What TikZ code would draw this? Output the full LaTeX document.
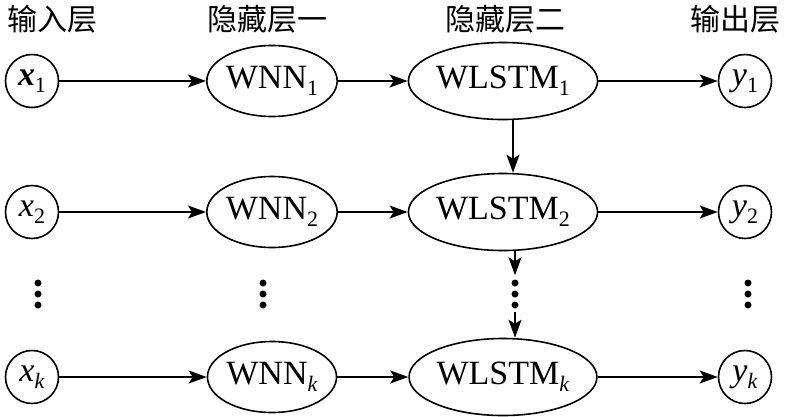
\documentclass[tikz,border=0pt]{standalone}
\usepackage{fontspec}
\setmainfont{Liberation Serif}
\newfontfamily\cjk{Noto Sans CJK SC}
\usetikzlibrary{shapes.geometric,arrows.meta}
\newcommand{\sbs}[1]{\raisebox{-7pt}{\fontsize{22}{22}\selectfont #1}}
\begin{document}
\begin{tikzpicture}[x=1pt,y=-1pt,
  every node/.style={font=\fontsize{34}{36}\selectfont},
  io/.style={draw,line width=1.6pt,circle,minimum size=53pt,inner sep=0pt},
  wnn/.style={draw,line width=1.6pt,ellipse,minimum width=113pt,minimum height=71pt,inner sep=0pt},
  wls/.style={draw,line width=1.6pt,ellipse,minimum width=156pt,minimum height=77pt,inner sep=0pt},
  head/.style={font=\cjk\fontsize{30}{32}\selectfont},
  arr/.style={line width=1.6pt,-{Stealth[length=18pt,width=13pt,inset=4pt]}},
  dot/.style={fill,circle,minimum size=7pt,inner sep=0pt}]
\useasboundingbox (0,0) rectangle (787,416);
% headers
\node[head] (h1) at (52,19) {输入层};
\node[head] (h2) at (267,19) {隐藏层一};
\node[head] (h3) at (505,19) {隐藏层二};
\node[head] (h4) at (735,19) {输出层};
% row 1
\node[io] (x1) at (32,81) {\textbf{\textit{x}}\sbs{1}};
\node[wnn] (n1) at (272,81) {WNN\sbs{1}};
\node[wls] (l1) at (503,81) {WLSTM\sbs{1}};
\node[io] (y1) at (745,81) {\textit{y}\sbs{1}};
% row 2
\node[io] (x2) at (32,212) {\textit{x}\sbs{2}};
\node[wnn] (n2) at (272,212) {WNN\sbs{2}};
\node[wls] (l2) at (503,212) {WLSTM\sbs{2}};
\node[io] (y2) at (745,212) {\textit{y}\sbs{2}};
% row k
\node[io] (xk) at (32,377) {\textit{x}\sbs{\textit{k}}};
\node[wnn] (nk) at (272,377) {WNN\sbs{\textit{k}}};
\node[wls] (lk) at (503,377) {WLSTM\sbs{\textit{k}}};
\node[io] (yk) at (745,377) {\textit{y}\sbs{\textit{k}}};
% dots
\foreach \c/\xx in {a/38,b/263,c/515,d/748}{
  \node[dot] (\c1) at (\xx,283) {};
  \node[dot] (\c2) at (\xx,294) {};
  \node[dot] (\c3) at (\xx,305) {};
}
% arrows
\foreach \r in {1,2,k}{
  \draw[arr] (x\r) -- (n\r);
  \draw[arr] (n\r) -- (l\r);
  \draw[arr] (l\r) -- (y\r);
}
\draw[arr] ([xshift=10pt]l1.south) -- ([xshift=10pt]l2.north);
\draw[arr] ([xshift=12pt]l2.south) -- ([yshift=4pt]c1.north);
\draw[arr] ([yshift=-3pt]c3.south) -- ([xshift=12pt]lk.north);
\end{tikzpicture}
\end{document}
